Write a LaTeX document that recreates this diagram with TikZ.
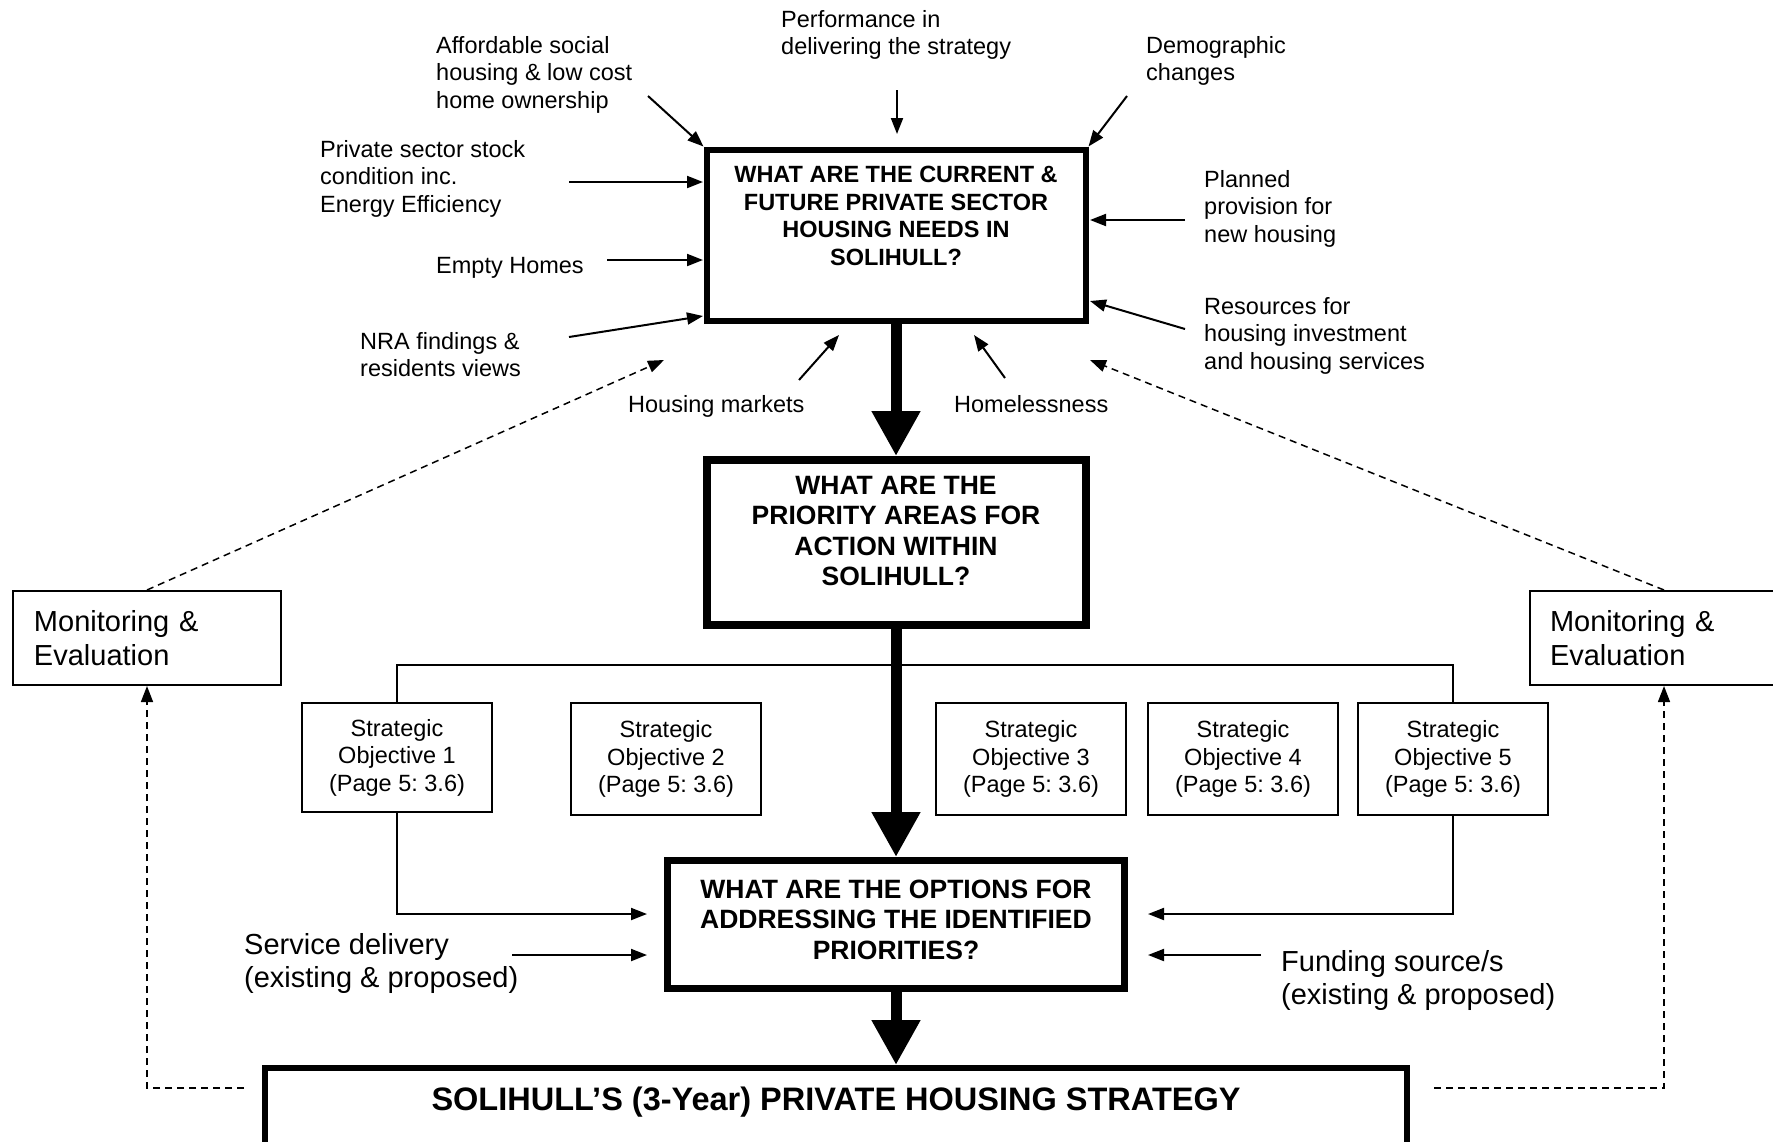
\documentclass[tikz,border=0pt]{standalone}
\usepackage{fontspec}
\setmainfont{Liberation Sans}
\usetikzlibrary{arrows.meta}
\frenchspacing
\newcommand{\labfont}{\fontsize{23.5}{27.5}\selectfont}
\newcommand{\bigfont}{\fontsize{29}{33.5}\selectfont}
\newcommand{\qfont}{\fontsize{23.5}{27.5}\selectfont\bfseries}
\newcommand{\qqfont}{\fontsize{26.5}{30.5}\selectfont\bfseries}
\tikzset{
  lab/.style={anchor=north west, inner sep=0pt, align=left, font=\labfont},
  biglab/.style={anchor=north west, inner sep=0pt, align=left, font=\bigfont},
  qbox/.style={draw, rectangle, inner sep=0pt},
  sobox/.style={draw, line width=2pt, rectangle, inner sep=0pt, minimum width=190pt, align=center, font=\labfont},
  monbox/.style={draw, line width=2pt, rectangle, inner sep=0pt, minimum width=268pt, minimum height=94pt, align=left, font=\bigfont},
  tarr/.style={line width=2pt, -{Triangle[length=16pt,width=12pt]}},
  thick arr/.style={line width=11pt, -{Triangle[length=45pt,width=46pt]}},
  darr/.style={line width=1.5pt, dash pattern=on 7pt off 5pt, -{Triangle[length=16pt,width=12pt]}},
  plainline/.style={line width=2pt},
}
\begin{document}
\begin{tikzpicture}[x=1pt,y=-1pt]
\useasboundingbox (0,0) rectangle (1773,1141);

% main question boxes
\node[qbox, line width=6pt, minimum width=379pt, minimum height=171pt] (q1) at (896,235) {};
\node[anchor=north, inner sep=0pt, align=center, font=\qfont] (q1t) at (896,166)
  {WHAT ARE THE CURRENT \&\\FUTURE PRIVATE SECTOR\\HOUSING NEEDS IN\\SOLIHULL?};

\node[qbox, line width=8pt, minimum width=379pt, minimum height=165pt] (q2) at (896,542.5) {};
\node[anchor=north, inner sep=0pt, align=center, font=\qqfont] (q2t) at (896,476)
  {WHAT ARE THE\\PRIORITY AREAS FOR\\ACTION WITHIN\\SOLIHULL?};

\node[qbox, line width=7pt, minimum width=457pt, minimum height=128pt] (q3) at (896,924.5) {};
\node[anchor=north, inner sep=0pt, align=center, font=\qqfont] (q3t) at (896,879.5)
  {WHAT ARE THE OPTIONS FOR\\ADDRESSING THE IDENTIFIED\\PRIORITIES?};

\node[qbox, line width=6pt, minimum width=1142pt, minimum height=112pt] (q4) at (836,1124) {};
\node[anchor=base, inner sep=0pt, font=\fontsize{32.5}{37}\selectfont\bfseries] (q4t) at (836,1110)
  {SOLIHULL’S (3-Year) PRIVATE HOUSING STRATEGY};

% thick arrows
\draw[thick arr] (q1.south) -- (q2.north);
\draw[thick arr] (q2.south) -- (q3.north);
\draw[thick arr] (q3.south) -- (q3.south |- q4.north);

% top labels
\node[lab] (aff) at (436,36) {Affordable social\\housing \& low cost\\home ownership};
\node[lab] (perf) at (781,10) {Performance in\\delivering the strategy};
\node[lab] (demo) at (1146,36) {Demographic\\changes};
\node[lab] (priv) at (320,140) {Private sector stock\\condition inc.\\Energy Efficiency};
\node[lab] (empty) at (436,257) {Empty Homes};
\node[lab] (nra) at (360,332) {NRA findings \&\\residents views};
\node[lab] (hmk) at (628,395) {Housing markets};
\node[lab] (homeless) at (954,395) {Homelessness};
\node[lab] (plan) at (1204,170) {Planned\\provision for\\new housing};
\node[lab] (res) at (1204,297) {Resources for\\housing investment\\and housing services};

% arrow coordinates
\coordinate (affT) at (648,96);
\coordinate (perfT) at (897,90);
\coordinate (perfH) at (897,134);
\coordinate (demoT) at (1127,96);
\coordinate (privT) at (569,182);
\coordinate (privH) at (703,182);
\coordinate (emptyT) at (607,260);
\coordinate (emptyH) at (703,260);
\coordinate (nraT) at (569,337);
\coordinate (nraH) at (703,316);
\coordinate (hmkT) at (799,380);
\coordinate (hmkH) at (839,335);
\coordinate (homT) at (1005,378);
\coordinate (homH) at (974,335);
\coordinate (planT) at (1185,220);
\coordinate (planH) at (1090,220);
\coordinate (resT) at (1185,329);
\coordinate (resH) at (1090,301);

\draw[tarr] (affT) -- (q1.north west);
\draw[tarr] (perfT) -- (perfH);
\draw[tarr] (demoT) -- (q1.north east);
\draw[tarr] (privT) -- (privH);
\draw[tarr] (emptyT) -- (emptyH);
\draw[tarr] (nraT) -- (nraH);
\draw[tarr] (hmkT) -- (hmkH);
\draw[tarr] (homT) -- (homH);
\draw[tarr] (planT) -- (planH);
\draw[tarr] (resT) -- (resH);

% monitoring boxes
\node[monbox, text width=226pt] (mL) at (147,638) {Monitoring \&\\Evaluation};
\node[monbox, text width=228pt] (mR) at (1664,638) {Monitoring \&\\Evaluation};

\coordinate (dLt) at (664,360);
\coordinate (dRt) at (1090,360);
\draw[darr] (mL.north) -- (dLt);
\draw[darr] (mR.north) -- (dRt);
\coordinate (dLb) at (244,1088);
\coordinate (dRb) at (1434,1088);
\draw[darr] (dLb) -| (mL.south);
\draw[darr] (dRb) -| (mR.south);

% strategic objectives
\node[sobox, minimum height=109pt] (so1) at (397,757.5) {Strategic\\Objective 1\\(Page 5: 3.6)};
\node[sobox, minimum height=112pt] (so2) at (666,759) {Strategic\\Objective 2\\(Page 5: 3.6)};
\node[sobox, minimum height=112pt] (so3) at (1031,759) {Strategic\\Objective 3\\(Page 5: 3.6)};
\node[sobox, minimum height=112pt] (so4) at (1243,759) {Strategic\\Objective 4\\(Page 5: 3.6)};
\node[sobox, minimum height=112pt] (so5) at (1453,759) {Strategic\\Objective 5\\(Page 5: 3.6)};

\coordinate (brk) at (896,665);
\draw[plainline] (so1.north) |- (brk) -| (so5.north);

\coordinate (so1H) at (647,914);
\coordinate (so5H) at (1148,914);
\draw[tarr] (so1.south) |- (so1H);
\draw[tarr] (so5.south) |- (so5H);

% service / funding
\node[biglab] (serv) at (244,933) {Service delivery\\(existing \& proposed)};
\node[biglab] (fund) at (1281,950) {Funding source/s\\(existing \& proposed)};
\coordinate (servT) at (512,955);
\coordinate (servH) at (647,955);
\coordinate (fundT) at (1261,955);
\coordinate (fundH) at (1148,955);
\draw[tarr] (servT) -- (servH);
\draw[tarr] (fundT) -- (fundH);
\end{tikzpicture}
\end{document}
